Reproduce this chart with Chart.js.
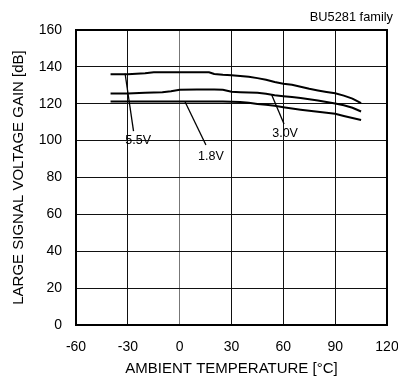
<!DOCTYPE html>
<html>
<head>
<meta charset="utf-8">
<script src="https://cdn.jsdelivr.net/npm/chart.js@4.4.1/dist/chart.umd.min.js"></script>
<style>
  html, body { margin: 0; padding: 0; background: #fff; }
  #wrap { width: 398px; height: 379px; position: relative; }
</style>
</head>
<body>
<div id="wrap"><canvas id="gainChart"></canvas></div>
<script>
const temps = [-40, -30, -20, -15, -10, -5, 0, 10, 17, 20, 25, 30, 35, 40, 45, 50, 55, 60, 65, 70, 75, 80, 85, 90, 95, 100, 105];
const gain55 = [136.0, 136.0, 136.6, 137.1, 137.1, 137.1, 137.1, 137.1, 137.1, 136.1, 135.7, 135.5, 135.0, 134.6, 133.9, 133.0, 131.8, 130.9, 130.3, 129.2, 128.1, 127.2, 126.4, 125.7, 124.4, 122.8, 120.3];
const gain30 = [125.5, 125.5, 126.0, 126.1, 126.2, 126.8, 127.6, 127.7, 127.7, 127.7, 127.6, 126.5, 126.3, 126.1, 125.9, 125.4, 124.6, 124.1, 123.6, 123.1, 122.4, 121.8, 120.9, 120.1, 119.2, 117.8, 115.8];
const gain18 = [121.2, 121.2, 121.2, 121.2, 121.2, 121.2, 121.2, 121.2, 121.2, 121.2, 121.2, 121.1, 120.9, 120.6, 119.9, 119.4, 118.9, 118.1, 117.4, 116.8, 116.2, 115.6, 115.1, 114.6, 113.4, 112.3, 111.2];

const xTicks = [-60, -30, 0, 30, 60, 90, 120];
const yTicks = [0, 20, 40, 60, 80, 100, 120, 140, 160];

// labels with leader lines, in data units: [text, labelX, labelY, fromX, fromY, toX, toY]
const callouts = [
  ['5.5V', -24, 100.3, -31.6, 136.4, -26.7, 105.2],
  ['1.8V', 18.1, 91.6, 3.1, 121.1, 15.2, 97.6],
  ['3.0V', 61, 103.6, 53.3, 124.7, 60.4, 109]
];

const FONT = "'Liberation Sans', Arial, sans-serif";

function toPoints(ys) {
  return temps.map((t, i) => ({ x: t, y: ys[i] }));
}

const calloutPlugin = {
  id: 'callouts',
  afterDatasetsDraw(chart) {
    const { ctx, scales: { x, y } } = chart;
    ctx.save();
    ctx.strokeStyle = '#000';
    ctx.lineWidth = 1.3;
    ctx.fillStyle = '#000';
    ctx.font = '12.5px ' + FONT;
    ctx.textAlign = 'center';
    ctx.textBaseline = 'middle';
    callouts.forEach(([text, lx, ly, fx, fy, tx, ty]) => {
      ctx.beginPath();
      ctx.moveTo(x.getPixelForValue(fx), y.getPixelForValue(fy));
      ctx.lineTo(x.getPixelForValue(tx), y.getPixelForValue(ty));
      ctx.stroke();
      ctx.fillText(text, x.getPixelForValue(lx), y.getPixelForValue(ly));
    });
    // part name, top right
    ctx.font = '12.8px ' + FONT;
    ctx.textAlign = 'right';
    ctx.fillText('BU5281 family', chart.width - 5, 17);
    ctx.restore();
  }
};

const lineStyle = {
  borderColor: '#000',
  borderWidth: 2,
  pointRadius: 0,
  tension: 0,
  fill: false
};

new Chart(document.getElementById('gainChart'), {
  type: 'line',
  data: {
    datasets: [
      { label: '5.5V', data: toPoints(gain55), ...lineStyle },
      { label: '3.0V', data: toPoints(gain30), ...lineStyle },
      { label: '1.8V', data: toPoints(gain18), ...lineStyle }
    ]
  },
  options: {
    responsive: true,
    maintainAspectRatio: false,
    animation: false,
    layout: { padding: { top: 30, right: 11, bottom: 0, left: 0 } },
    plugins: {
      legend: { display: false },
      tooltip: { enabled: false }
    },
    scales: {
      x: {
        type: 'linear',
        min: -60,
        max: 120,
        afterBuildTicks: s => { s.ticks = xTicks.map(v => ({ value: v })); },
        afterFit: s => { s.height = 54; s.paddingLeft = 0; s.paddingRight = 0; },
        grid: {
          color: ctx => ctx.tick && ctx.tick.value === 0 ? '#777' : '#111',
          lineWidth: 1,
          drawTicks: false
        },
        border: { color: '#000', width: 2 },
        ticks: { color: '#000', padding: 14, font: { family: FONT, size: 14 } },
        title: {
          display: true,
          text: 'AMBIENT TEMPERATURE [°C]',
          color: '#000',
          font: { family: FONT, size: 15 },
          padding: { top: 0, bottom: 1 }
        }
      },
      y: {
        min: 0,
        max: 160,
        afterBuildTicks: s => { s.ticks = yTicks.map(v => ({ value: v })); },
        afterFit: s => { s.width = 76; s.paddingTop = 0; s.paddingBottom = 0; },
        grid: { color: '#111', lineWidth: 1, drawTicks: false },
        border: { color: '#000', width: 2 },
        ticks: { color: '#000', padding: 14, font: { family: FONT, size: 14 } },
        title: {
          display: true,
          text: 'LARGE SIGNAL VOLTAGE GAIN [dB]',
          color: '#000',
          font: { family: FONT, size: 15 },
          padding: { top: 10, bottom: 0 }
        }
      }
    }
  },
  plugins: [calloutPlugin, {
    id: 'frame',
    afterDraw(chart) {
      const { ctx, chartArea: a } = chart;
      ctx.save();
      ctx.strokeStyle = '#000';
      ctx.lineWidth = 2;
      ctx.strokeRect(a.left, a.top, a.right - a.left, a.bottom - a.top);
      ctx.restore();
    }
  }]
});
</script>
</body>
</html>
